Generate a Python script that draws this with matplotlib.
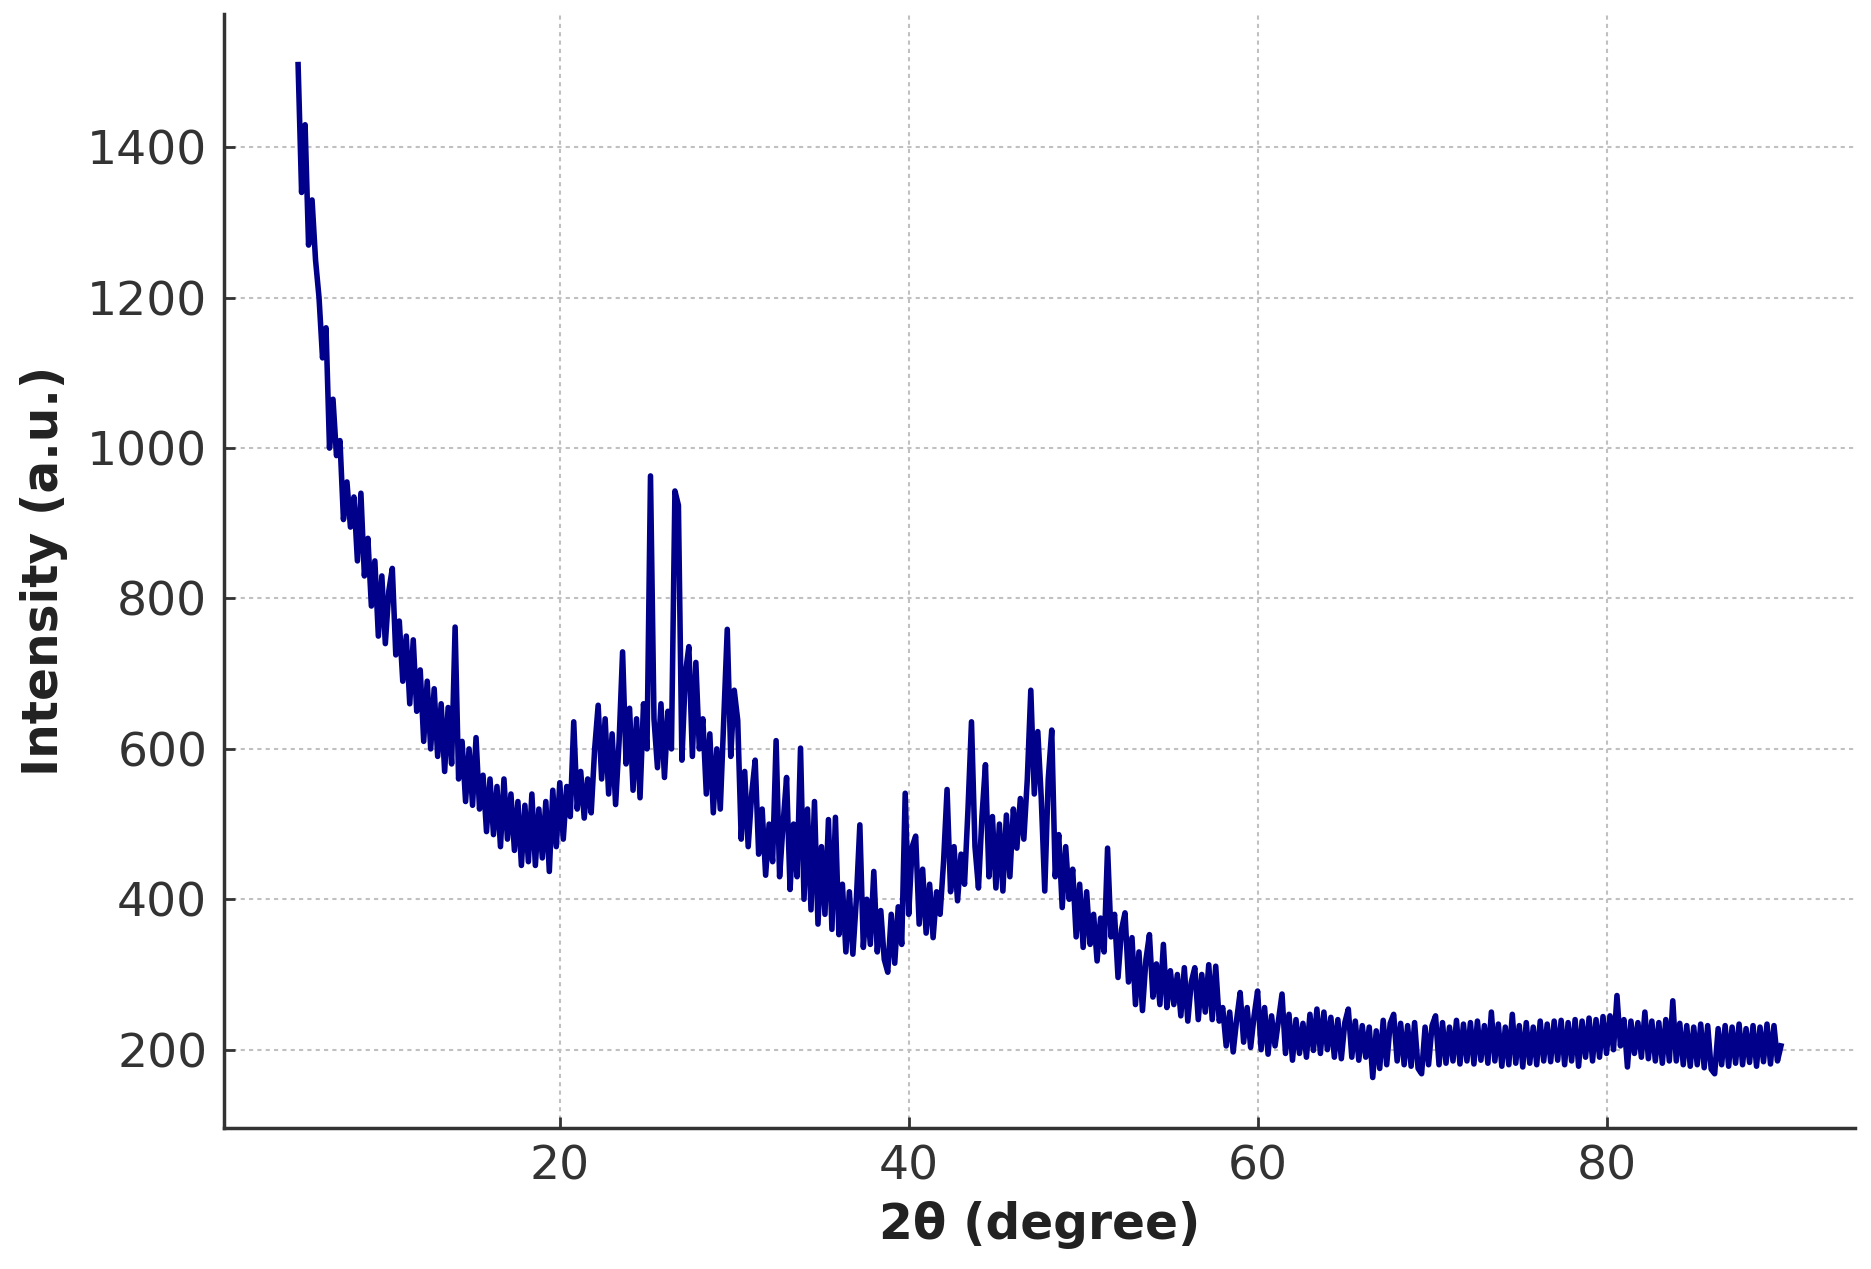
import numpy as np
import matplotlib
matplotlib.use("Agg")
import matplotlib.pyplot as plt

# 2theta grid of the scan, 0.2 degree steps from 5 to 90
two_theta = np.round(np.arange(5.0, 90.001, 0.2), 1)

# intensity, one row per degree
intensity = [
    # 5 - 9.8
    1510, 1340, 1430, 1270, 1330, 1250, 1200, 1120, 1160, 1000,
    1065, 990, 1010, 905, 955, 895, 935, 850, 940, 830,
    880, 790, 850, 750, 830,
    # 10 - 14.8
    740, 810, 840, 725, 770, 690, 750, 660, 745, 650,
    705, 610, 690, 600, 680, 590, 660, 570, 655, 580,
    762, 560, 610, 530, 600,
    # 15 - 19.8
    525, 615, 520, 565, 490, 560, 486, 550, 470, 560,
    480, 540, 465, 530, 445, 525, 450, 540, 445, 520,
    455, 530, 437, 545, 470,
    # 20 - 24.8
    555, 480, 550, 510, 636, 520, 570, 508, 560, 515,
    600, 658, 560, 640, 540, 620, 526, 610, 729, 580,
    654, 545, 640, 535, 660,
    # 25 - 29.8
    600, 963, 640, 575, 660, 562, 650, 600, 943, 924,
    585, 700, 736, 590, 715, 600, 640, 540, 620, 515,
    600, 520, 640, 759, 590,
    # 30 - 34.8
    678, 638, 480, 570, 470, 540, 585, 460, 520, 432,
    500, 450, 611, 430, 500, 562, 413, 500, 430, 601,
    400, 520, 386, 530, 367,
    # 35 - 39.8
    470, 380, 506, 360, 509, 353, 420, 330, 410, 327,
    400, 499, 336, 400, 340, 437, 330, 385, 320, 303,
    380, 315, 390, 340, 541,
    # 40 - 44.8
    380, 470, 484, 367, 440, 355, 420, 349, 410, 380,
    450, 546, 410, 470, 398, 460, 420, 520, 636, 470,
    415, 510, 579, 430, 510,
    # 45 - 49.8
    415, 500, 411, 512, 430, 520, 468, 534, 480, 560,
    678, 540, 623, 534, 411, 560, 625, 430, 486, 389,
    470, 400, 440, 350, 420,
    # 50 - 54.8
    336, 410, 340, 380, 318, 375, 330, 468, 350, 380,
    296, 360, 382, 290, 349, 260, 330, 252, 320, 353,
    270, 314, 260, 340, 256,
    # 55 - 59.8
    305, 260, 300, 245, 309, 238, 290, 309, 240, 300,
    250, 313, 240, 311, 238, 256, 205, 250, 197, 240,
    276, 210, 256, 203, 245,
    # 60 - 64.8
    278, 200, 256, 194, 245, 205, 240, 274, 195, 247,
    186, 240, 195, 235, 190, 247, 199, 254, 195, 250,
    200, 243, 190, 240, 188,
    # 65 - 69.8
    236, 254, 190, 238, 186, 232, 190, 230, 163, 225,
    175, 239, 180, 235, 247, 185, 235, 180, 232, 178,
    236, 175, 168, 230, 180,
    # 70 - 74.8
    232, 245, 180, 236, 182, 230, 185, 239, 181, 234,
    185, 236, 181, 238, 186, 232, 182, 250, 185, 234,
    178, 230, 180, 247, 182,
    # 75 - 79.8
    232, 177, 236, 182, 230, 180, 238, 185, 234, 184,
    238, 186, 239, 180, 236, 185, 240, 178, 238, 190,
    242, 185, 240, 190, 244,
    # 80 - 84.8
    195, 245, 200, 272, 205, 240, 177, 238, 195, 236,
    190, 250, 188, 238, 185, 236, 182, 240, 185, 265,
    185, 235, 180, 232, 178,
    # 85 - 89.8
    230, 180, 234, 176, 232, 174, 168, 228, 180, 232,
    178, 230, 182, 234, 180, 228, 183, 232, 178, 230,
    184, 234, 181, 232, 185,
    # 90
    205,
]

x_ticks = [20, 40, 60, 80]
y_ticks = [200, 400, 600, 800, 1000, 1200, 1400]

fig = plt.figure(figsize=(18.71, 12.69), dpi=100)
ax = fig.add_axes([0.1197, 0.111, 0.8718, 0.878])

ax.plot(two_theta, intensity, color="#00008B", linewidth=4.0, solid_joinstyle="round")

ax.set_xticks(x_ticks)
ax.set_yticks(y_ticks)
ax.grid(True, color="#c0c0c0", linestyle=(0, (2, 2)), linewidth=1.5)

for side in ["top", "right"]:
    ax.spines[side].set_visible(False)
for side in ["left", "bottom"]:
    ax.spines[side].set_color("#333333")
    ax.spines[side].set_linewidth(2.5)

ax.tick_params(direction="in", length=8, width=2, colors="#333333",
               labelsize=34, pad=12)

ax.set_xlabel("2θ (degree)", fontsize=35, fontweight="bold", color="#222222", labelpad=8)
ax.set_ylabel("Intensity (a.u.)", fontsize=35, fontweight="bold", color="#222222", labelpad=14)

fig.savefig("out.png", dpi=100)
